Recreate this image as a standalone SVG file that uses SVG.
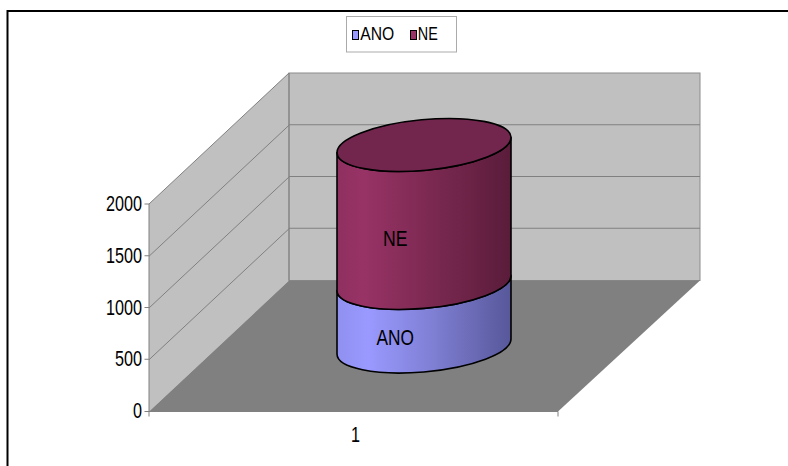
<svg xmlns="http://www.w3.org/2000/svg" width="788" height="466" viewBox="0 0 788 466">
<defs>
<style>
.lbl{font-family:"Liberation Sans",Arial,sans-serif;fill:#000}
.ax{font-size:21.5px}
.grid{stroke:#808080;stroke-width:1;fill:none}
.edge{stroke:#000;stroke-width:1.6;stroke-linejoin:round}
</style>
<linearGradient id="gNE" x1="0" y1="0" x2="1" y2="0">
<stop offset="0" stop-color="#8E3060"/>
<stop offset="0.15" stop-color="#983366"/>
<stop offset="0.5" stop-color="#7E2A53"/>
<stop offset="1" stop-color="#5A1C3A"/>
</linearGradient>
<linearGradient id="gANO" x1="0" y1="0" x2="1" y2="0">
<stop offset="0" stop-color="#9090F0"/>
<stop offset="0.18" stop-color="#9999FF"/>
<stop offset="0.55" stop-color="#7F7FD4"/>
<stop offset="1" stop-color="#57579A"/>
</linearGradient>
</defs>
<rect width="788" height="466" fill="#fff"/>
<rect id="frame" x="7.5" y="11" width="800" height="500" fill="none" stroke="#000" stroke-width="2"/>

<g id="walls">
<polygon points="149,411.5 289,280.5 289,73 149,204" fill="#C0C0C0"/>
<rect x="289" y="73" width="411" height="207.5" fill="#C0C0C0" stroke="#8C8C8C" stroke-width="1"/>
<polygon points="149,411.5 558,411.5 700,280.5 289,280.5" fill="#808080"/>
<line class="grid" x1="289" y1="124.75" x2="700" y2="124.75"/>
<line class="grid" x1="289" y1="176.5" x2="700" y2="176.5"/>
<line class="grid" x1="289" y1="228.25" x2="700" y2="228.25"/>
<line class="grid" x1="149" y1="359.75" x2="289" y2="228.75"/>
<line class="grid" x1="149" y1="308" x2="289" y2="177"/>
<line class="grid" x1="149" y1="256.25" x2="289" y2="125.25"/>
<line class="grid" x1="149" y1="204" x2="289" y2="73"/>
<line class="grid" x1="289" y1="73" x2="289" y2="280.5"/>
</g>

<g id="axes">
<line class="grid" x1="149" y1="204" x2="149" y2="416.5"/>
<line class="grid" x1="149" y1="411.5" x2="558" y2="411.5"/>
<line class="grid" x1="558" y1="411.5" x2="558" y2="416.5"/>
<line class="grid" x1="144.5" y1="204" x2="149" y2="204"/>
<line class="grid" x1="144.5" y1="255.75" x2="149" y2="255.75"/>
<line class="grid" x1="144.5" y1="307.5" x2="149" y2="307.5"/>
<line class="grid" x1="144.5" y1="359.25" x2="149" y2="359.25"/>
<line class="grid" x1="144.5" y1="411.5" x2="149" y2="411.5"/>
<text class="lbl ax" x="106" y="211" textLength="36" lengthAdjust="spacingAndGlyphs">2000</text>
<text class="lbl ax" x="106" y="262.8" textLength="36" lengthAdjust="spacingAndGlyphs">1500</text>
<text class="lbl ax" x="106" y="314.6" textLength="36" lengthAdjust="spacingAndGlyphs">1000</text>
<text class="lbl ax" x="115" y="366.4" textLength="27" lengthAdjust="spacingAndGlyphs">500</text>
<text class="lbl ax" x="133" y="418.3" textLength="9" lengthAdjust="spacingAndGlyphs">0</text>
<text class="lbl ax" x="351" y="441.7" textLength="9" lengthAdjust="spacingAndGlyphs">1</text>
</g>

<g id="series-ANO">
<path class="edge" fill="url(#gANO)" d="M337,290.5 A87.3,25.3 -5.4 0 0 511,275.5 L511,339 A87.3,25.3 -5.4 0 1 337,354 Z"/>
<text class="lbl" font-size="21.5" x="376.5" y="345" textLength="37.5" lengthAdjust="spacingAndGlyphs">ANO</text>
</g>

<g id="series-NE">
<path class="edge" fill="url(#gNE)" d="M337,152.5 A87.3,25.3 -5.4 0 0 511,137.5 L511,275.5 A87.3,25.3 -5.4 0 1 337,290.5 Z"/>
<ellipse class="edge" cx="424" cy="145" rx="87.3" ry="25.3" transform="rotate(-5.4 424 145)" fill="#72264D"/>
<text class="lbl" font-size="21.5" x="383" y="245.7" textLength="24.5" lengthAdjust="spacingAndGlyphs">NE</text>
</g>

<g id="legend">
<rect x="346.5" y="16.5" width="110" height="35.5" fill="#fff" stroke="#ABABAB" stroke-width="1"/>
<rect x="352.5" y="30.5" width="6" height="9" fill="#9999FF" stroke="#000" stroke-width="1"/>
<text class="lbl" font-size="19" x="360.3" y="40.3" textLength="34" lengthAdjust="spacingAndGlyphs">ANO</text>
<rect x="410.5" y="30.5" width="6" height="9" fill="#993366" stroke="#000" stroke-width="1"/>
<text class="lbl" font-size="19" x="417.8" y="40.3" textLength="20" lengthAdjust="spacingAndGlyphs">NE</text>
</g>
</svg>
